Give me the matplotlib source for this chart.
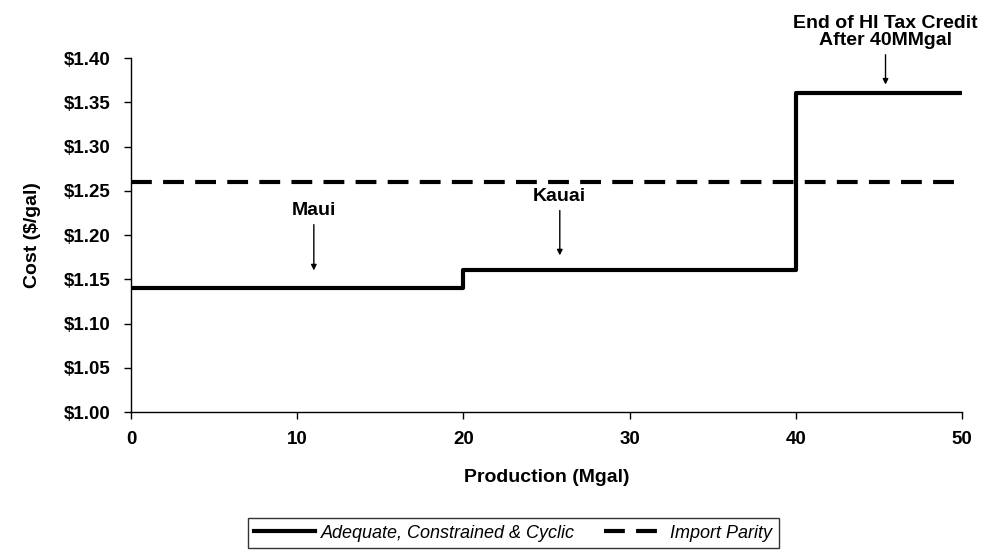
import matplotlib
matplotlib.use("Agg")
import matplotlib.pyplot as plt
from matplotlib.lines import Line2D

plt.rcParams['font.family'] = ['Liberation Sans', 'DejaVu Sans']

# Data
step_x = [0, 20, 40, 50]
step_y = [1.14, 1.16, 1.36, 1.36]
parity_x = [0, 50]
parity_y = [1.26, 1.26]
series_names = ["Adequate, Constrained & Cyclic", "Import Parity"]
yticks = [1.00, 1.05, 1.10, 1.15, 1.20, 1.25, 1.30, 1.35, 1.40]
xticks = [0, 10, 20, 30, 40, 50]

fig = plt.figure(figsize=(9.83, 5.52), dpi=100)
ax = fig.add_axes([0.1333, 0.2536, 0.8453, 0.6413])

ax.step(step_x, step_y, where='post', color='black', lw=3, solid_capstyle='butt')
ax.plot(parity_x, parity_y, color='black', lw=3, dashes=(5, 2.7))

ax.set_xlim(0, 50)
ax.set_ylim(1.00, 1.40)
ax.set_xticks(xticks)
ax.set_yticks(yticks)
ax.set_yticklabels([f"${v:.2f}" for v in yticks])
for s in ['top', 'right']:
    ax.spines[s].set_visible(False)
for s in ['left', 'bottom']:
    ax.spines[s].set_linewidth(1)
ax.tick_params(axis='both', labelsize=13.5, length=5, width=1)
ax.tick_params(axis='y', pad=10)
ax.tick_params(axis='x', pad=9)
for lab in ax.get_xticklabels() + ax.get_yticklabels():
    lab.set_fontweight('bold')

ax.set_xlabel("Production (Mgal)", fontsize=14, fontweight='bold', labelpad=15)
ax.set_ylabel("Cost ($/gal)", fontsize=14, fontweight='bold', labelpad=16)

arrowprops = dict(arrowstyle='-|>', color='black', lw=1, mutation_scale=8, shrinkA=2, shrinkB=0)
ax.annotate("Maui", xy=(11, 1.16), xytext=(11, 1.218), ha='center', va='bottom',
            fontsize=14, fontweight='bold', arrowprops=arrowprops, annotation_clip=False)
ax.annotate("Kauai", xy=(25.8, 1.177), xytext=(25.8, 1.234), ha='center', va='bottom',
            fontsize=14, fontweight='bold', arrowprops=arrowprops, annotation_clip=False)
ax.annotate("End of HI Tax Credit\nAfter 40MMgal", xy=(45.4, 1.37), xytext=(45.4, 1.41),
            ha='center', va='bottom', fontsize=14, fontweight='bold',
            arrowprops=arrowprops, annotation_clip=False, linespacing=1.05)

handles = [Line2D([], [], color='black', lw=3),
           Line2D([], [], color='black', lw=3, dashes=(5, 2.7))]
leg = fig.legend(handles, series_names, loc='lower center', bbox_to_anchor=(0.522, 0.007),
                 ncol=2, frameon=True, fancybox=False, edgecolor='black',
                 prop={'style': 'italic', 'size': 13}, handlelength=3.4, handletextpad=0.3,
                 columnspacing=1.6, borderpad=0.35, borderaxespad=0)
leg.get_frame().set_linewidth(1)
leg.get_frame().set_boxstyle('square', pad=0)

fig.savefig("out.png", dpi=100)
